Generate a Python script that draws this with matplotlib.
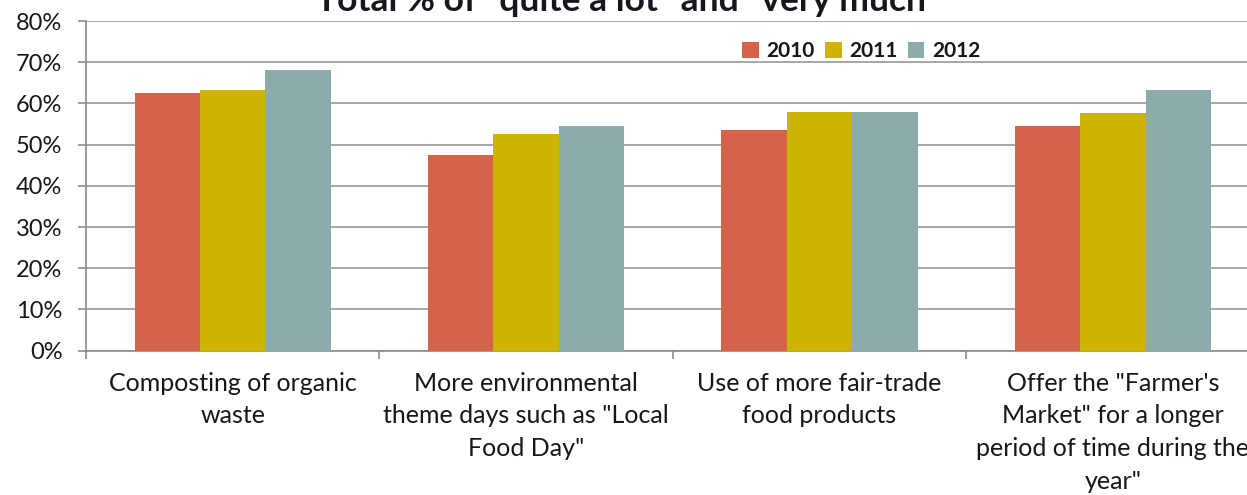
import numpy as np
import matplotlib
matplotlib.use("Agg")
import matplotlib.pyplot as plt
from matplotlib.ticker import FixedLocator, PercentFormatter

# Survey results, share answering "quite a lot" or "very much" (%)
categories = [
    "Composting of organic\nwaste",
    "More environmental\ntheme days such as \"Local\nFood Day\"",
    "Use of more fair-trade\nfood products",
    "Offer the \"Farmer's\nMarket\" for a longer\nperiod of time during the\nyear\"",
]
years = ["2010", "2011", "2012"]
values_2010 = [62.6, 47.4, 53.5, 54.5]
values_2011 = [63.2, 52.7, 57.9, 57.7]
values_2012 = [68.1, 54.5, 57.9, 63.3]
colors = ["#D4634A", "#CCB400", "#8CACAC"]

plt.rcParams["font.family"] = ["Lato", "DejaVu Sans"]
text_color = "#16161E"

fig = plt.figure(figsize=(12.47, 4.95), dpi=100)
# plot area runs a little past the right edge of the figure
ax = fig.add_axes([0.069, 0.2915, 0.941, 0.666])

x = np.arange(len(categories))
bar_w = 0.223
for i, (vals, year) in enumerate(zip([values_2010, values_2011, values_2012], years)):
    ax.bar(x + (i - 1) * bar_w, vals, width=bar_w, color=colors[i],
           label=year, zorder=3, linewidth=0)

ax.set_xlim(-0.5, len(categories) - 0.5)
ax.set_ylim(0, 80)
ax.set_yticks(np.arange(0, 81, 10))
ax.yaxis.set_major_formatter(PercentFormatter(decimals=0))
ax.yaxis.grid(True, color="#A6A6A6", linewidth=1.4, zorder=0)

ax.set_xticks(x)
ax.set_xticklabels(categories, fontsize=18, color=text_color, linespacing=1.52)
ax.xaxis.set_minor_locator(FixedLocator(np.arange(-0.5, len(categories), 1.0)))
ax.tick_params(axis="x", which="major", length=0, pad=15)
ax.tick_params(axis="x", which="minor", length=6, width=1.2, color="#8C8C8C")
ax.tick_params(axis="y", length=6, width=1.2, color="#8C8C8C",
               labelsize=17, labelcolor=text_color, pad=11)

for side in ["top", "right"]:
    ax.spines[side].set_visible(False)
for side in ["left", "bottom"]:
    ax.spines[side].set_color("#8C8C8C")
    ax.spines[side].set_linewidth(1.2)

leg = ax.legend(loc="center left", bbox_to_anchor=(732 / 1247, 1 - 51 / 495),
                bbox_transform=fig.transFigure, ncol=3, frameon=False,
                borderpad=0, handlelength=0.78, handleheight=0.78,
                handletextpad=0.38, columnspacing=0.5,
                prop={"size": 15, "weight": "bold"})
for t in leg.get_texts():
    t.set_color(text_color)

fig.text(0.5036, 1 - 11 / 495, "Total % of \"quite a lot\" and \"very much\"",
         ha="center", va="baseline", fontsize=25.5, fontweight="bold",
         color=text_color)

fig.savefig("out.png", dpi=100)
